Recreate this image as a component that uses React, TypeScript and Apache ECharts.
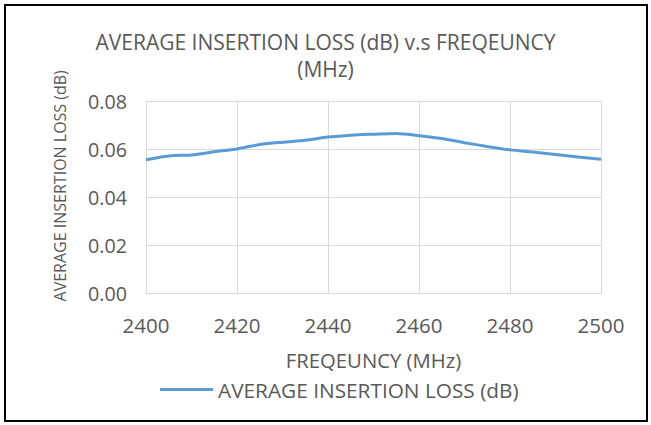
import React, { useEffect, useRef } from "react";
import * as echarts from "echarts";

const frequencies = [2400, 2405, 2410, 2415, 2420, 2425, 2430, 2435, 2440, 2445, 2450, 2455, 2460, 2465, 2470, 2475, 2480, 2485, 2490, 2495, 2500];
const insertionLoss = [0.0556, 0.0572, 0.0576, 0.0589, 0.0601, 0.0619, 0.0629, 0.0637, 0.065, 0.0658, 0.0662, 0.0665, 0.0656, 0.0644, 0.0627, 0.0611, 0.0597, 0.0588, 0.0578, 0.0567, 0.0558];
const seriesName = "AVERAGE INSERTION LOSS (dB)";
const titleText = "AVERAGE INSERTION LOSS (dB) v.s FREQEUNCY\n(MHz)";
const xName = "FREQEUNCY (MHz)";
const yName = "AVERAGE INSERTION LOSS (dB)";

const FONT = "'Open Sans', sans-serif";
const TXT = "#595959";

export default function App() {
  const ref = useRef<HTMLDivElement>(null);
  useEffect(() => {
    if (!ref.current) return;
    const chart = echarts.init(ref.current, null, { renderer: "svg" });
    chart.setOption({
      animation: false,
      backgroundColor: "#ffffff",
      title: {
        text: titleText,
        left: "center",
        top: 24,
        padding: [5, 0, 5, 12],
        textStyle: { fontFamily: FONT, fontSize: 21, fontWeight: "normal", color: TXT, lineHeight: 26.5 },
      },
      legend: {
        data: [seriesName],
        left: 155,
        top: 374,
        itemWidth: 53,
        itemHeight: 3,
        icon: "rect",
        textStyle: { fontFamily: FONT, fontSize: 20.8, color: TXT },
      },
      grid: { left: 146, right: 50, top: 101, bottom: 131.4, containLabel: false },
      xAxis: {
        type: "value",
        min: 2400,
        max: 2500,
        interval: 20,
        name: xName,
        nameLocation: "middle",
        nameGap: 56,
        nameTextStyle: { fontFamily: FONT, fontSize: 20.3, color: TXT },
        axisLine: { show: true, lineStyle: { color: "#d9d9d9", width: 1 } },
        axisTick: { show: false },
        axisLabel: { fontFamily: FONT, fontSize: 20.5, color: TXT, margin: 21, formatter: (v: number) => String(v) },
        splitLine: { show: true, lineStyle: { color: "#d9d9d9", width: 1 } },
      },
      yAxis: {
        type: "value",
        min: 0,
        max: 0.08,
        interval: 0.02,
        name: yName,
        nameLocation: "middle",
        nameGap: 78,
        nameRotate: 90,
        nameTextStyle: { fontFamily: FONT, fontSize: 16, color: TXT, padding: [0, 0, 0, 23] },
        axisLine: { show: false },
        axisTick: { show: false },
        axisLabel: { fontFamily: FONT, fontSize: 19.7, color: TXT, margin: 19, formatter: (v: number) => v.toFixed(2) },
        splitLine: { show: true, lineStyle: { color: "#d9d9d9", width: 1 } },
      },
      series: [
        {
          name: seriesName,
          type: "line",
          data: frequencies.map((f, i) => [f, insertionLoss[i]]),
          showSymbol: false,
          smooth: 0.3,
          lineStyle: { color: "#5B9BD5", width: 3 },
          itemStyle: { color: "#5B9BD5" },
        },
      ],
      graphic: [
        {
          type: "rect",
          shape: { x: 5, y: 5, width: 642, height: 416 },
          style: { fill: "none", stroke: "#000000", lineWidth: 2 },
          silent: true,
        },
      ],
    });
    return () => chart.dispose();
  }, []);
  return <div ref={ref} style={{ position: "fixed", left: 0, top: 0, width: 651, height: 425 }} />;
}
